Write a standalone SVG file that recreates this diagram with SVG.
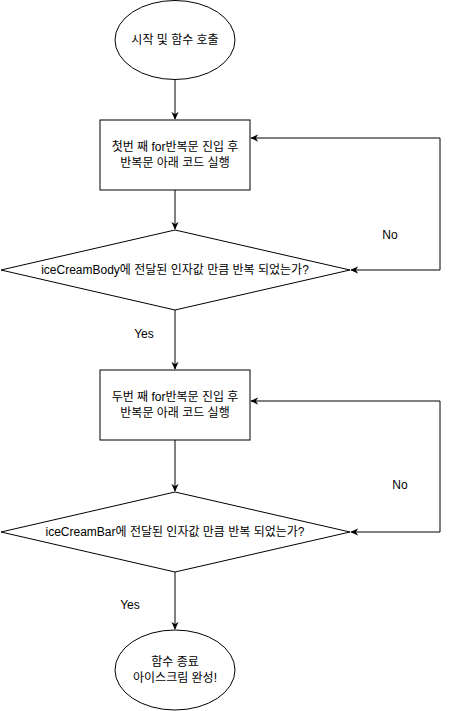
<svg xmlns="http://www.w3.org/2000/svg" width="450" height="711" viewBox="0 0 450 711">
<style>
.s{fill:#fff;stroke:#000;stroke-width:1}
.c{fill:none;stroke:#000;stroke-width:1}
text{font-family:"Liberation Sans","Noto Sans CJK KR",Arial,sans-serif;font-size:12px;fill:#000;text-anchor:middle;dominant-baseline:central}
</style>
<defs>
<marker id="a" viewBox="0 0 10 10" refX="9" refY="5" markerWidth="8" markerHeight="8" markerUnits="userSpaceOnUse" orient="auto-start-reverse">
<path d="M0,0.5 L10,5 L0,9.5 L3,5 z" fill="#000"/>
</marker>
</defs>
<g id="connectors">
<line class="c" x1="175" y1="80" x2="175" y2="119" marker-end="url(#a)"/>
<line class="c" x1="175" y1="190" x2="175" y2="229" marker-end="url(#a)"/>
<polyline class="c" points="351,270 440,270 440,138 251,138" marker-start="url(#a)" marker-end="url(#a)"/>
<line class="c" x1="175" y1="310" x2="175" y2="369" marker-end="url(#a)"/>
<line class="c" x1="175" y1="440" x2="175" y2="491" marker-end="url(#a)"/>
<polyline class="c" points="351,532 440,532 440,401 251,401" marker-start="url(#a)" marker-end="url(#a)"/>
<line class="c" x1="175" y1="572" x2="175" y2="629" marker-end="url(#a)"/>
<text x="390" y="235">No</text>
<text x="144" y="334">Yes</text>
<text x="400" y="485">No</text>
<text x="130" y="605">Yes</text>
</g>
<g id="start">
<ellipse class="s" cx="175" cy="40" rx="60" ry="39.5"/>
<text x="175" y="40">시작 및 함수 호출</text>
</g>
<g id="loop1">
<rect class="s" x="100" y="120" width="150" height="70"/>
<text x="175" y="147">첫번 째 for반복문 진입 후</text>
<text x="175" y="163">반복문 아래 코드 실행</text>
</g>
<g id="cond1">
<polygon class="s" points="175,230 350,270 175,310 1,270"/>
<text x="175" y="270">iceCreamBody에 전달된 인자값 만큼 반복 되었는가?</text>
</g>
<g id="loop2">
<rect class="s" x="100" y="370" width="150" height="70"/>
<text x="175" y="397">두번 째 for반복문 진입 후</text>
<text x="175" y="413">반복문 아래 코드 실행</text>
</g>
<g id="cond2">
<polygon class="s" points="175,492 350,532 175,572 1,532"/>
<text x="175" y="532">iceCreamBar에 전달된 인자값 만큼 반복 되었는가?</text>
</g>
<g id="end">
<ellipse class="s" cx="175" cy="670" rx="60" ry="40"/>
<text x="175" y="662">함수 종료</text>
<text x="175" y="678">아이스크림 완성!</text>
</g>
</svg>
